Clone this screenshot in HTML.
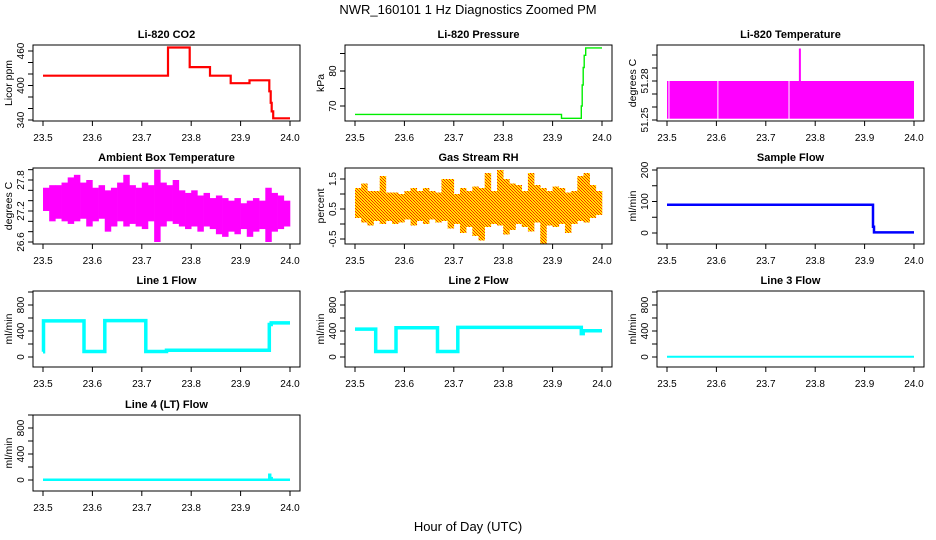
<!DOCTYPE html>
<html><head><meta charset="utf-8"><style>
html,body{margin:0;padding:0;background:#fff}
svg{display:block;font-family:"Liberation Sans",Arial,sans-serif}
</style></head><body>
<svg id="chart" width="936" height="540" viewBox="0 0 936 540" xmlns="http://www.w3.org/2000/svg">
<defs>
<pattern id="rhpat" width="3" height="3" patternUnits="userSpaceOnUse"><rect width="3" height="3" fill="#ffe600"/><rect width="1" height="1" fill="#ff2000"/><rect x="1" y="1" width="1" height="1" fill="#ff3000"/><rect x="2" y="2" width="1" height="1" fill="#ff2000"/></pattern>
</defs>
<text x="468" y="14" font-size="13" text-anchor="middle">NWR_160101  1 Hz Diagnostics Zoomed PM</text>
<text x="468" y="531" font-size="13" text-anchor="middle">Hour of Day (UTC)</text>
</svg>
<script>
// ---- data ----
const xTicks = [23.5, 23.6, 23.7, 23.8, 23.9, 24.0];
const xTickLabels = ["23.5", "23.6", "23.7", "23.8", "23.9", "24.0"];

const co2Times = [23.5, 23.753, 23.797, 23.838, 23.88, 23.918, 23.958, 23.961, 23.963, 23.966, 24.0];
const co2Values = [417, 466, 432, 417, 404, 409, 390, 370, 355, 343, 343];

const presTimes = [23.5, 23.918, 23.958, 23.96, 23.962, 23.964, 23.967, 24.0];
const presValues = [67.6, 66.5, 70, 76, 81, 84.5, 86.6, 86.6];

const tempSegStart = [23.5, 23.505, 23.604, 23.748];
const tempSegEnd = [23.503, 23.602, 23.746, 24.0];
const tempSegLow = [51.251, 51.251, 51.251, 51.251];
const tempSegHigh = [51.28, 51.28, 51.28, 51.28];
const tempSpikeTime = [23.769];
const tempSpikeValue = [51.305];

const ambBinStart = 23.5;
const ambBinWidth = 0.0125;
const ambHigh = [27.65,27.7,27.7,27.75,27.85,27.9,27.75,27.8,27.65,27.7,27.6,27.65,27.75,27.9,27.7,27.65,27.75,27.7,28.0,27.75,27.7,27.8,27.6,27.55,27.6,27.5,27.55,27.45,27.5,27.45,27.4,27.45,27.35,27.4,27.45,27.4,27.65,27.55,27.5,27.4];
const ambLow = [27.2,27.0,27.05,27.0,26.95,27.0,27.05,26.9,27.0,27.05,26.8,26.9,27.0,26.9,26.95,26.9,26.85,27.0,26.6,26.9,27.0,26.95,26.9,26.85,26.9,26.8,26.9,26.85,26.75,26.7,26.8,26.75,26.85,26.7,26.8,26.85,26.6,26.8,26.85,26.9];

const rhBinStart = 23.5;
const rhBinWidth = 0.0125;
const rhHigh = [1.2,1.35,1.1,1.1,1.6,1.05,1.05,1.0,1.1,1.2,1.1,1.2,1.1,1.05,1.5,1.5,1.0,1.2,1.1,1.25,1.2,1.7,1.1,1.8,1.5,1.35,1.3,1.1,1.7,1.3,1.2,1.1,1.25,1.2,1.05,1.1,1.6,1.7,1.3,1.1];
const rhLow = [0.2,0.05,-0.05,0.1,0.0,0.1,0.0,0.05,0.15,-0.05,0.1,0.0,0.15,0.05,0.1,-0.15,0.0,-0.3,-0.1,-0.4,-0.55,-0.1,0.0,-0.05,-0.35,-0.2,0.0,-0.1,-0.25,0.05,-0.7,-0.05,-0.1,0.0,-0.3,0.0,0.1,0.05,0.2,0.3];

const sampleTimes = [23.5, 23.917, 23.919, 24.0];
const sampleValues = [90, 20, 2, 2];

const line1Times = [23.5, 23.501, 23.583, 23.625, 23.708, 23.75, 23.958, 23.962, 24.0];
const line1Values = [80, 555, 85, 560, 85, 105, 500, 525, 525];
const line2Times = [23.5, 23.542, 23.583, 23.667, 23.708, 23.958, 23.962, 24.0];
const line2Values = [430, 85, 450, 85, 455, 360, 405, 405];
const line3Times = [23.5, 24.0];
const line3Values = [5, 5];
const line4Times = [23.5, 23.958, 23.960, 23.963, 24.0];
const line4Values = [5, 80, 30, 5, 5];

// ---- layout ----
const NS = "http://www.w3.org/2000/svg";
const svg = document.getElementById("chart");
const rowTop = [45, 168, 291, 415];
const BOXH = 76;
function mk(tag, attrs, parent) {
  const e = document.createElementNS(NS, tag);
  for (const k in attrs) e.setAttribute(k, attrs[k]);
  (parent || svg).appendChild(e);
  return e;
}
const panels = [
  {key:"co2", title:"Li-820 CO2", ylab:"Licor ppm", col:0, row:0, a:[460,6], b:[340,75], ticks:[340,360,380,400,420,440,460], labels:[340,400,460]},
  {key:"pressure", title:"Li-820 Pressure", ylab:"kPa", col:1, row:0, a:[80,26], b:[70,61], ticks:[70,75,80,85], labels:[70,80]},
  {key:"temperature", title:"Li-820 Temperature", ylab:"degrees C", col:2, row:0, a:[51.28,36], b:[51.25,75], ticks:[51.25,51.26,51.27,51.28,51.29,51.30], labels:["51.25","51.28"]},
  {key:"ambient", title:"Ambient Box Temperature", ylab:"degrees C", col:0, row:1, a:[27.8,12], b:[26.6,74], ticks:[26.6,26.8,27.0,27.2,27.4,27.6,27.8,28.0], labels:["26.6","27.2","27.8"]},
  {key:"rh", title:"Gas Stream RH", ylab:"percent", col:1, row:1, a:[1.5,11], b:[-0.5,71], ticks:[-0.5,0,0.5,1,1.5], labels:["-0.5","0.5","1.5"]},
  {key:"sample", title:"Sample Flow", ylab:"ml/min", col:2, row:1, a:[200,2], b:[0,65], ticks:[0,50,100,150,200], labels:[0,100,200]},
  {key:"line1", title:"Line 1 Flow", ylab:"ml/min", col:0, row:2, a:[800,14], b:[0,66], ticks:[0,200,400,600,800,1000], labels:[0,400,800]},
  {key:"line2", title:"Line 2 Flow", ylab:"ml/min", col:1, row:2, a:[800,14], b:[0,66], ticks:[0,200,400,600,800,1000], labels:[0,400,800]},
  {key:"line3", title:"Line 3 Flow", ylab:"ml/min", col:2, row:2, a:[800,14], b:[0,66], ticks:[0,200,400,600,800,1000], labels:[0,400,800]},
  {key:"line4", title:"Line 4 (LT) Flow", ylab:"ml/min", col:0, row:3, a:[800,13], b:[0,65], ticks:[0,200,400,600,800,1000], labels:[0,400,800]}
];

panels.forEach(p => {
  const off = p.col * 312;
  const top = rowTop[p.row], bot = top + BOXH;
  const left = 33 + off, right = 300 + off;
  p.x = h => 43 + off + (h - 23.5) * (247 / 0.5);
  p.y = v => top + p.b[1] + (v - p.b[0]) * (p.a[1] - p.b[1]) / (p.a[0] - p.b[0]);
  const g = mk("g", {});
  
  
  const cp = mk("clipPath", {id: "clip-" + p.key}, g);
  mk("rect", {x:left, y:top, width:right-left, height:BOXH}, cp);
  p.plot = mk("g", {"clip-path": "url(#clip-" + p.key + ")"}, g);
  
  
  p.g = g; p.top = top; p.bot = bot; p.left = left; p.right = right; p.off = off;
});

function stepPath(p, times, vals) {
  let d = "M" + p.x(times[0]).toFixed(1) + "," + p.y(vals[0]).toFixed(1);
  for (let i = 1; i < times.length; i++) {
    d += "H" + p.x(times[i]).toFixed(1) + "V" + p.y(vals[i]).toFixed(1);
  }
  return d;
}
const P = {}; panels.forEach(p => P[p.key] = p);

// CO2
let s = mk("path", {d: stepPath(P.co2, co2Times, co2Values), fill:"none", stroke:"#ff0000", "stroke-width":2.2}, P.co2.plot);


// Pressure
s = mk("path", {d: stepPath(P.pressure, presTimes, presValues), fill:"none", stroke:"#00ee00", "stroke-width":1.4}, P.pressure.plot);


// Temperature
for (let i = 0; i < tempSegStart.length; i++) {
  const p = P.temperature;
  const r = mk("rect", {x:p.x(tempSegStart[i]), y:p.y(tempSegHigh[i]), width:Math.max(1, p.x(tempSegEnd[i]) - p.x(tempSegStart[i])), height:p.y(tempSegLow[i]) - p.y(tempSegHigh[i]), fill:"#ff00ff"}, p.plot);
  
  
}
for (let i = 0; i < tempSpikeTime.length; i++) {
  const p = P.temperature;
  const r = mk("line", {x1:p.x(tempSpikeTime[i]), x2:p.x(tempSpikeTime[i]), y1:p.y(51.28), y2:p.y(tempSpikeValue[i]), stroke:"#ff00ff", "stroke-width":2}, p.plot);
  
  
}
// Ambient
for (let i = 0; i < ambHigh.length; i++) {
  const p = P.ambient;
  const x0 = p.x(ambBinStart + i * ambBinWidth), x1 = p.x(ambBinStart + (i + 1) * ambBinWidth);
  const r = mk("rect", {x:x0, y:p.y(ambHigh[i]), width:x1 - x0 + 0.3, height:p.y(ambLow[i]) - p.y(ambHigh[i]), fill:"#ff00ff"}, p.plot);
  
  
}
// RH
for (let i = 0; i < rhHigh.length; i++) {
  const p = P.rh;
  const x0 = p.x(rhBinStart + i * rhBinWidth), x1 = p.x(rhBinStart + (i + 1) * rhBinWidth);
  const r = mk("rect", {x:x0, y:p.y(rhHigh[i]), width:x1 - x0 + 0.3, height:p.y(rhLow[i]) - p.y(rhHigh[i]), fill:"url(#rhpat)"}, p.plot);
  
  
}
// Flows
const flowSets = [["sample", sampleTimes, sampleValues, "#0000ff", 2.5], ["line1", line1Times, line1Values, "#00ffff", 3.5], ["line2", line2Times, line2Values, "#00ffff", 3.5], ["line3", line3Times, line3Values, "#00ffff", 2], ["line4", line4Times, line4Values, "#00ffff", 2.5]];
flowSets.forEach(f => {
  const e = mk("path", {d: stepPath(P[f[0]], f[1], f[2]), fill:"none", stroke:f[3], "stroke-width":f[4]}, P[f[0]].plot);
  
  
});

// Axes, frames, titles
panels.forEach(p => {
  const fr = mk("rect", {x:p.left, y:p.top, width:p.right - p.left, height:BOXH, fill:"none", stroke:"#000", "stroke-width":1}, p.g);
  
  
  const t = mk("text", {x:(p.left + p.right) / 2, y:p.top - 7, "font-size":11, "font-weight":"bold", "text-anchor":"middle"}, p.g);
  t.textContent = p.title;
  
  
  xTicks.forEach((h, i) => {
    const x = p.x(h);
    mk("line", {x1:x, x2:x, y1:p.bot, y2:p.bot + 5, stroke:"#000"}, p.g);
    const tl = mk("text", {x:x, y:p.bot + 20, "font-size":10, "text-anchor":"middle"}, p.g);
    tl.textContent = xTickLabels[i];
    
    
  });
  p.ticks.forEach(v => {
    const y = p.y(v);
    mk("line", {x1:p.left - 5, x2:p.left, y1:y, y2:y, stroke:"#000"}, p.g);
  });
  p.labels.forEach(v => {
    const y = p.y(Number(v));
    const tl = mk("text", {x:0, y:0, transform:"translate(" + (p.off + 24) + "," + y + ") rotate(-90)", "font-size":10, "text-anchor":"middle"}, p.g);
    tl.textContent = String(v);
    
    
  });
  const yl = mk("text", {x:0, y:0, transform:"translate(" + (p.off + 12) + "," + (p.top + BOXH / 2) + ") rotate(-90)", "font-size":10.5, "text-anchor":"middle"}, p.g);
  yl.textContent = p.ylab;
  
  
});
</script>
</body></html>
